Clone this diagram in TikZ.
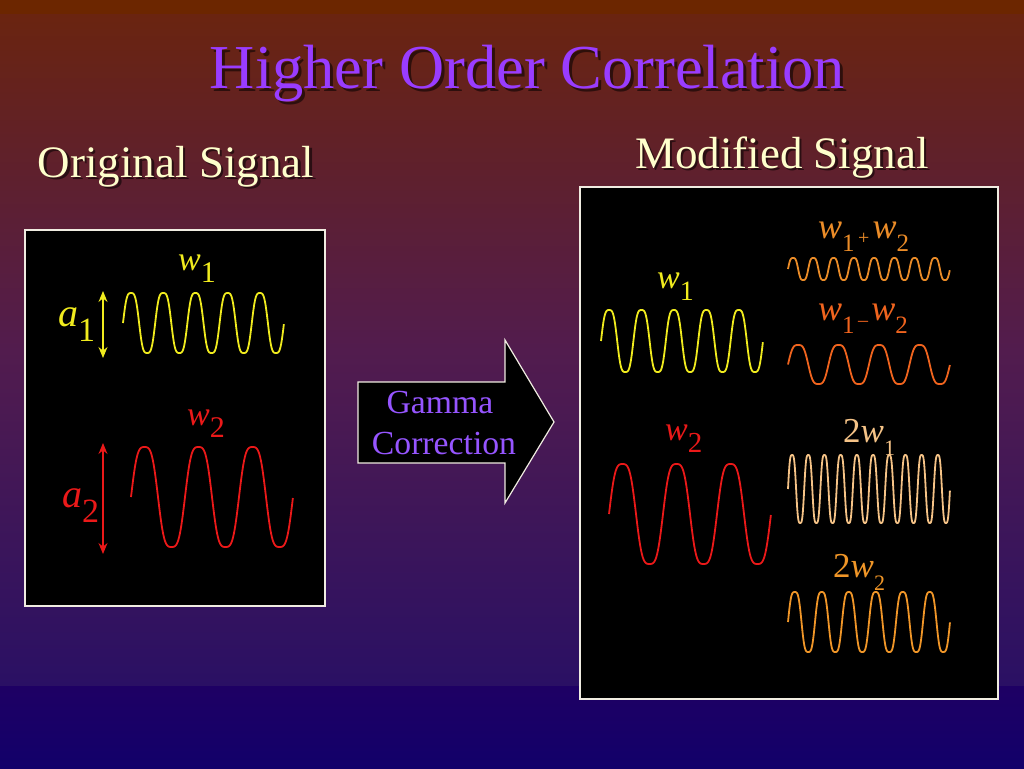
\documentclass[tikz,border=0pt]{standalone}
\usepackage{fontspec}
\setmainfont{Liberation Serif}
\usetikzlibrary{arrows.meta}
\definecolor{bgtop}{RGB}{108,38,0}
\definecolor{bgA}{RGB}{106,36,16}
\definecolor{bgM}{RGB}{82,28,78}
\definecolor{bgB}{RGB}{42,16,100}
\definecolor{bgC}{RGB}{30,0,100}
\definecolor{bgD}{RGB}{18,0,106}
\definecolor{titlecol}{RGB}{153,60,255}
\definecolor{gammacol}{RGB}{150,85,255}
\definecolor{cream}{RGB}{255,255,204}
\definecolor{boxborder}{RGB}{240,236,225}
\definecolor{yel}{RGB}{240,235,30}
\definecolor{sigred}{RGB}{235,25,25}
\definecolor{orA}{RGB}{235,140,40}
\definecolor{orB}{RGB}{240,100,30}
\definecolor{peach}{RGB}{245,195,135}
\definecolor{orC}{RGB}{240,150,40}
\newcommand\vs[4]{{\fontsize{#1}{#1}\selectfont\textit{#3}\raisebox{-0.38em}{\fontsize{#2}{#2}\selectfont #4}}}
\newcommand\opsym[2]{{\fontsize{#1}{#1}\selectfont\raisebox{-0.3em}{\,#2\,}}}
\begin{document}
\begin{tikzpicture}[x=1pt,y=-1pt,
  declare function={wv(\t)=(sin(\t)+0.1*sin(3*\t))/0.9;},
  wave/.style={line width=1.8pt, line join=round},
  panel/.style={draw=boxborder, line width=1.5pt, fill=black},
  lbl/.style={inner sep=0pt, anchor=base west},
  headtext/.style={inner sep=0pt, anchor=base, font=\fontsize{45}{45}\selectfont, text=cream},
  shadowtext/.style={inner sep=0pt, anchor=base, text=black, opacity=0.55},
  amp/.style={{Stealth[length=11pt,width=9pt]}-{Stealth[length=11pt,width=9pt]}, line width=1.2pt}]
\useasboundingbox (0,0) rectangle (1024,768);
% background
\fill[bgtop] (0,0) rectangle (1024,15);
\shade[top color=bgA, bottom color=bgB, middle color=bgM] (0,15) rectangle (1024,686);
\shade[top color=bgC, bottom color=bgD] (0,686) rectangle (1024,768);
% title and headings
\node[shadowtext, font=\fontsize{62.5}{62.5}\selectfont] (titleshadow) at (530.5,91) {Higher Order Correlation};
\node[inner sep=0pt, anchor=base, font=\fontsize{62.5}{62.5}\selectfont, text=titlecol] (title) at (527.5,88) {Higher Order Correlation};
\node[shadowtext, font=\fontsize{45}{45}\selectfont] (origshadow) at (178.5,179.5) {Original Signal};
\node[headtext] (orig) at (176,177) {Original Signal};
\node[shadowtext, font=\fontsize{45}{45}\selectfont] (modshadow) at (784.5,170.5) {Modified Signal};
\node[headtext] (mod) at (782,168) {Modified Signal};
% panels
\draw[panel] (25,230) rectangle (325,606);
\draw[panel] (580,187) rectangle (998,699);
% arrow
\draw[draw=boxborder, line width=1.2pt, fill=black] (358,382) -- (505,382) -- (505,340) -- (554,422) -- (505,503) -- (505,463) -- (358,463) -- cycle;
\node[inner sep=0pt, anchor=base, font=\fontsize{33.7}{33.7}\selectfont, text=gammacol] (gamma) at (440,413) {Gamma};
\node[inner sep=0pt, anchor=base, font=\fontsize{33.7}{33.7}\selectfont, text=gammacol] (corr) at (444,454) {Correction};
% left panel
\node[lbl, text=yel] (lw1) at (178,270) {\vs{34}{30}{w}{1}};
\draw[wave, yel] plot[domain=0:1, samples=300] ({123+161*\x},{323-30*wv(5*360*\x)});
\coordinate (a1t) at (103,291);
\coordinate (a1b) at (103,358);
\draw[amp, yel] (a1t) -- (a1b);
\node[lbl, text=yel] (la1) at (58,326) {\vs{40}{34}{a}{1}};
\node[lbl, text=sigred] (lw2) at (187,425) {\vs{34}{30}{w}{2}};
\draw[wave, sigred] plot[domain=0:1, samples=240] ({131+162*\x},{497-50*wv(3*360*\x)});
\coordinate (a2t) at (103,443);
\coordinate (a2b) at (103,554);
\draw[amp, sigred] (a2t) -- (a2b);
\node[lbl, text=sigred] (la2) at (62,507) {\vs{40}{34}{a}{2}};
% right panel
\node[lbl, text=yel] (rw1) at (657,288) {\vs{34}{28}{w}{1}};
\draw[wave, yel] plot[domain=0:1, samples=300] ({601+162*\x},{341-31*wv(5*360*\x)});
\node[lbl, text=sigred] (rw2) at (665,440) {\vs{34}{29}{w}{2}};
\draw[wave, sigred] plot[domain=0:1, samples=240] ({609+162*\x},{514-50*wv(3*360*\x)});
\node[lbl, text=orA] (rsum) at (818,238) {\vs{36}{25}{w}{1}\opsym{20}{+}\vs{36}{25}{w}{2}};
\draw[wave, orA] plot[domain=0:1, samples=400] ({788+162*\x},{269-11*wv(8*360*\x)});
\node[lbl, text=orB] (rdiff) at (818,320) {\vs{36}{25}{w}{1}\opsym{20}{\textendash}\vs{36}{25}{w}{2}};
\draw[wave, orB] plot[domain=0:1, samples=240] ({788+162*\x},{364.5-19.5*wv(4*360*\x)});
\node[lbl, text=peach] (r2w1) at (843,442) {{\fontsize{35}{35}\selectfont 2}\vs{35}{22}{w}{1}};
\draw[wave, peach] plot[domain=0:1, samples=500] ({788+162*\x},{489-34*wv(10*360*\x)});
\node[lbl, text=orC] (r2w2) at (833,577) {{\fontsize{35}{35}\selectfont 2}\vs{35}{22}{w}{2}};
\draw[wave, orC] plot[domain=0:1, samples=360] ({788+162*\x},{622-30*wv(6*360*\x)});
\end{tikzpicture}
\end{document}
